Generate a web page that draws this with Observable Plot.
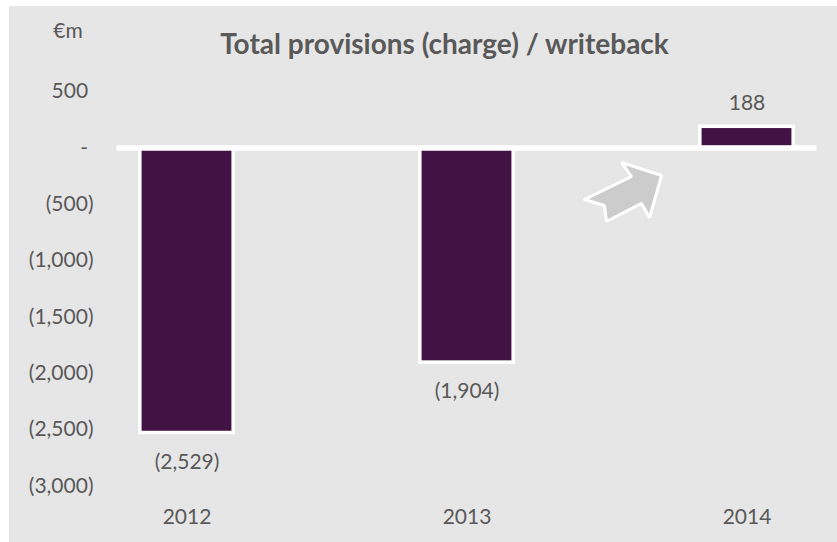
<!DOCTYPE html>
<html><head><meta charset="utf-8">
<script src="https://cdn.jsdelivr.net/npm/d3@7"></script>
<script src="https://cdn.jsdelivr.net/npm/@observablehq/plot@0.6"></script>
<style>
body{margin:0;background:#fff;}
#chart{position:absolute;left:9px;top:6px;width:828px;height:536px;background:#e6e6e6;}
#chart svg{display:block;font-family:Lato,"Open Sans",sans-serif;}
</style></head><body><div id="chart"></div>
<script>
const years = [2012, 2013, 2014];
const values = [-2529, -1904, 188];
const valueLabels = ["(2,529)", "(1,904)", "188"];
const yTicks = [500, 0, -500, -1000, -1500, -2000, -2500, -3000];
const yTickLabels = ["500\u00a0", "-\u00a0", "(500)", "(1,000)", "(1,500)", "(2,000)", "(2,500)", "(3,000)"];
// block arrow annotation outline, in data units (year, €m)
const arrowX = [2013.420, 2013.588, 2013.552, 2013.695, 2013.652, 2013.623, 2013.498, 2013.491, 2013.420];
const arrowY = [-457, -253, -129, -244, -617, -492, -652, -510, -457];
const title = "Total provisions (charge) / writeback";
const unit = "€m";

const data = years.map((y, i) => ({year: y, value: values[i], label: valueLabels[i]}));
const arrow = arrowX.map((x, i) => ({x, y: arrowY[i]}));
const tickLabel = new Map(yTicks.map((t, i) => [t, yTickLabels[i]]));

const textColor = "#595959";
const fs = 21;
const chart = Plot.plot({
  width: 828,
  height: 536,
  marginLeft: 90,
  marginRight: 0,
  marginTop: 0,
  marginBottom: 33,
  style: {background: "transparent", color: textColor, fontSize: fs + "px", fontFamily: "Lato, 'Open Sans', sans-serif"},
  x: {type: "linear", domain: [2012, 2014], range: [177.5, 737.5]},
  y: {domain: [-3000, 500], range: [479.6, 85.15]},
  marks: [
    Plot.rect(data, {x1: d => d.year - 1/6, x2: d => d.year + 1/6, y1: 0, y2: "value", fill: "#411244", stroke: "white", strokeWidth: 3.5}),
    Plot.ruleY([0], {x1: 2011.75, x2: 2014.25, stroke: "white", strokeWidth: 5.5}),
    Plot.line(arrow, {x: "x", y: "y", fill: "#cccccc", stroke: "white", strokeWidth: 3, strokeLinejoin: "miter"}),
    Plot.text(data, {filter: d => d.value < 0, x: "year", y: "value", text: "label", dy: 29, fill: textColor, fontSize: fs}),
    Plot.text(data, {filter: d => d.value >= 0, x: "year", y: "value", text: "label", dy: -24, fill: textColor, fontSize: fs}),
    Plot.axisY(yTicks, {tickSize: 0, tickPadding: 6, tickFormat: d => tickLabel.get(d), label: null, fill: textColor, fontSize: fs}),
    Plot.axisX(years, {tickSize: 0, tickPadding: 0, tickFormat: d => String(d), label: null, fill: textColor, fontSize: fs}),
    Plot.text([title], {frameAnchor: "top", dx: -24, dy: 39, lineAnchor: "middle", fontWeight: "bold", fontSize: 28, fill: textColor}),
    Plot.text([unit], {frameAnchor: "top-left", dx: -31.5, dy: 25, textAnchor: "middle", lineAnchor: "middle", fontSize: fs, fill: textColor})
  ]
});
document.getElementById("chart").appendChild(chart);
</script></body></html>
